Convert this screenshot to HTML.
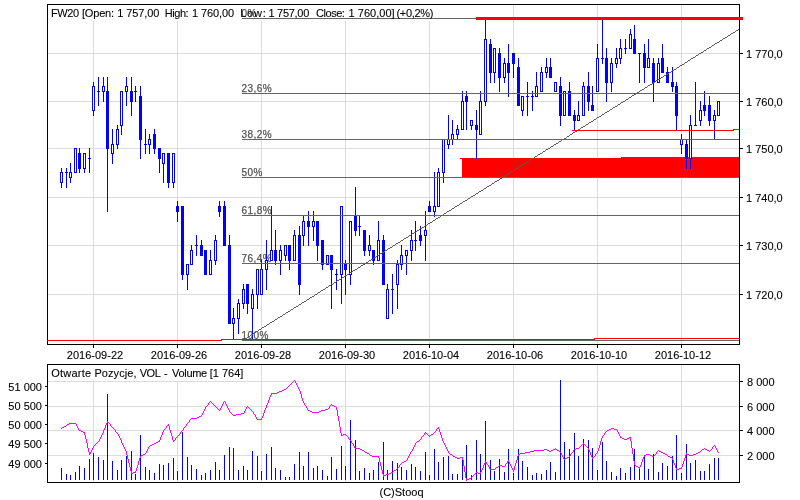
<!DOCTYPE html>
<html><head><meta charset="utf-8"><title>FW20</title>
<style>
html,body{margin:0;padding:0;background:#fff;}
body{width:800px;height:500px;overflow:hidden;}
svg{display:block;}
text{font-family:"Liberation Sans",sans-serif;font-size:11px;white-space:pre;}
g.t text{stroke:#000;stroke-width:0.1px;}
</style></head><body>
<svg width="800" height="500" viewBox="0 0 800 500">
<rect width="800" height="500" fill="#fff"/>
<g shape-rendering="crispEdges">
<rect x="93" y="5" width="1" height="339" fill="#dcdcdc"/>
<rect x="177" y="5" width="1" height="339" fill="#dcdcdc"/>
<rect x="261" y="5" width="1" height="339" fill="#dcdcdc"/>
<rect x="345" y="5" width="1" height="339" fill="#dcdcdc"/>
<rect x="429" y="5" width="1" height="339" fill="#dcdcdc"/>
<rect x="513" y="5" width="1" height="339" fill="#dcdcdc"/>
<rect x="597" y="5" width="1" height="339" fill="#dcdcdc"/>
<rect x="681" y="5" width="1" height="339" fill="#dcdcdc"/>
<rect x="48" y="53" width="691" height="1" fill="#dcdcdc"/>
<rect x="48" y="101" width="691" height="1" fill="#dcdcdc"/>
<rect x="48" y="148" width="691" height="1" fill="#dcdcdc"/>
<rect x="48" y="197" width="691" height="1" fill="#dcdcdc"/>
<rect x="48" y="245" width="691" height="1" fill="#dcdcdc"/>
<rect x="48" y="294" width="691" height="1" fill="#dcdcdc"/>
<rect x="48" y="5" width="388" height="16" fill="#fff"/>
<rect x="93" y="365" width="1" height="117" fill="#dcdcdc"/>
<rect x="177" y="365" width="1" height="117" fill="#dcdcdc"/>
<rect x="261" y="365" width="1" height="117" fill="#dcdcdc"/>
<rect x="345" y="365" width="1" height="117" fill="#dcdcdc"/>
<rect x="429" y="365" width="1" height="117" fill="#dcdcdc"/>
<rect x="513" y="365" width="1" height="117" fill="#dcdcdc"/>
<rect x="597" y="365" width="1" height="117" fill="#dcdcdc"/>
<rect x="681" y="365" width="1" height="117" fill="#dcdcdc"/>
<rect x="48" y="381" width="691" height="1" fill="#dcdcdc"/>
<rect x="48" y="406" width="691" height="1" fill="#dcdcdc"/>
<rect x="48" y="430" width="691" height="1" fill="#dcdcdc"/>
<rect x="48" y="455" width="691" height="1" fill="#dcdcdc"/>
<rect x="48" y="365" width="198" height="16" fill="#fff"/>
<rect x="462" y="158" width="277" height="19" fill="#ff0000"/>
<rect x="460" y="158" width="3" height="1" fill="#ff0000"/>
<rect x="621" y="157" width="118" height="1" fill="#ff0000"/>
<g style="will-change:transform"><text x="241.6" y="17" fill="#555" stroke="#555" stroke-width="0.25" letter-spacing="0.44" style="font-size:10px">0%</text></g>
<g style="will-change:transform"><text x="241.6" y="92" fill="#555" stroke="#555" stroke-width="0.25" letter-spacing="0.44" style="font-size:10px">23,6%</text></g>
<g style="will-change:transform"><text x="241.6" y="138" fill="#555" stroke="#555" stroke-width="0.25" letter-spacing="0.44" style="font-size:10px">38,2%</text></g>
<g style="will-change:transform"><text x="241.6" y="176" fill="#555" stroke="#555" stroke-width="0.25" letter-spacing="0.44" style="font-size:10px">50%</text></g>
<g style="will-change:transform"><text x="241.6" y="214" fill="#555" stroke="#555" stroke-width="0.25" letter-spacing="0.44" style="font-size:10px">61,8%</text></g>
<g style="will-change:transform"><text x="241.6" y="262" fill="#555" stroke="#555" stroke-width="0.25" letter-spacing="0.44" style="font-size:10px">76,4%</text></g>
<g style="will-change:transform"><text x="241.6" y="339" fill="#555" stroke="#555" stroke-width="0.25" letter-spacing="0.44" style="font-size:10px">100%</text></g>
<rect x="61" y="168" width="1" height="20" fill="#0000ff"/>
<rect x="60" y="172" width="3" height="11" fill="#0000ff"/>
<rect x="61" y="173" width="1" height="9" fill="#fff"/>
<rect x="66" y="168" width="1" height="20" fill="#0000ff"/>
<rect x="65" y="172" width="3" height="1" fill="#0000ff"/>
<rect x="70" y="163" width="1" height="20" fill="#0000ff"/>
<rect x="69" y="172" width="3" height="6" fill="#0000ff"/>
<rect x="70" y="173" width="1" height="4" fill="#fff"/>
<rect x="75" y="148" width="1" height="25" fill="#0000ff"/>
<rect x="74" y="148" width="3" height="25" fill="#0000ff"/>
<rect x="75" y="149" width="1" height="23" fill="#fff"/>
<rect x="79" y="148" width="1" height="25" fill="#0000ff"/>
<rect x="78" y="153" width="3" height="16" fill="#0000ff"/>
<rect x="84" y="153" width="1" height="20" fill="#0000ff"/>
<rect x="83" y="153" width="3" height="16" fill="#0000ff"/>
<rect x="84" y="154" width="1" height="14" fill="#fff"/>
<rect x="89" y="148" width="1" height="25" fill="#0000ff"/>
<rect x="88" y="158" width="3" height="1" fill="#0000ff"/>
<rect x="93" y="82" width="1" height="34" fill="#0000ff"/>
<rect x="92" y="86" width="3" height="25" fill="#0000ff"/>
<rect x="93" y="87" width="1" height="23" fill="#fff"/>
<rect x="98" y="77" width="1" height="29" fill="#0000ff"/>
<rect x="97" y="91" width="3" height="1" fill="#0000ff"/>
<rect x="103" y="77" width="1" height="25" fill="#0000ff"/>
<rect x="102" y="86" width="3" height="6" fill="#0000ff"/>
<rect x="103" y="87" width="1" height="4" fill="#fff"/>
<rect x="107" y="77" width="1" height="135" fill="#0000ff"/>
<rect x="106" y="91" width="3" height="58" fill="#0000ff"/>
<rect x="112" y="129" width="1" height="35" fill="#0000ff"/>
<rect x="111" y="144" width="3" height="10" fill="#0000ff"/>
<rect x="112" y="145" width="1" height="8" fill="#fff"/>
<rect x="117" y="125" width="1" height="24" fill="#0000ff"/>
<rect x="116" y="129" width="3" height="16" fill="#0000ff"/>
<rect x="117" y="130" width="1" height="14" fill="#fff"/>
<rect x="121" y="91" width="1" height="44" fill="#0000ff"/>
<rect x="120" y="91" width="3" height="35" fill="#0000ff"/>
<rect x="121" y="92" width="1" height="33" fill="#fff"/>
<rect x="126" y="77" width="1" height="29" fill="#0000ff"/>
<rect x="125" y="86" width="3" height="6" fill="#0000ff"/>
<rect x="126" y="87" width="1" height="4" fill="#fff"/>
<rect x="131" y="77" width="1" height="39" fill="#0000ff"/>
<rect x="130" y="91" width="3" height="11" fill="#0000ff"/>
<rect x="135" y="86" width="1" height="16" fill="#0000ff"/>
<rect x="134" y="91" width="3" height="1" fill="#0000ff"/>
<rect x="140" y="86" width="1" height="73" fill="#0000ff"/>
<rect x="139" y="96" width="3" height="44" fill="#0000ff"/>
<rect x="145" y="129" width="1" height="25" fill="#0000ff"/>
<rect x="144" y="144" width="3" height="1" fill="#0000ff"/>
<rect x="149" y="134" width="1" height="20" fill="#0000ff"/>
<rect x="148" y="139" width="3" height="6" fill="#0000ff"/>
<rect x="149" y="140" width="1" height="4" fill="#fff"/>
<rect x="154" y="129" width="1" height="25" fill="#0000ff"/>
<rect x="153" y="134" width="3" height="15" fill="#0000ff"/>
<rect x="159" y="148" width="1" height="25" fill="#0000ff"/>
<rect x="158" y="148" width="3" height="11" fill="#0000ff"/>
<rect x="163" y="153" width="1" height="30" fill="#0000ff"/>
<rect x="162" y="153" width="3" height="11" fill="#0000ff"/>
<rect x="163" y="154" width="1" height="9" fill="#fff"/>
<rect x="168" y="153" width="1" height="35" fill="#0000ff"/>
<rect x="167" y="153" width="3" height="30" fill="#0000ff"/>
<rect x="173" y="153" width="1" height="35" fill="#0000ff"/>
<rect x="172" y="153" width="3" height="30" fill="#0000ff"/>
<rect x="173" y="154" width="1" height="28" fill="#fff"/>
<rect x="177" y="201" width="1" height="21" fill="#0000ff"/>
<rect x="176" y="206" width="3" height="6" fill="#0000ff"/>
<rect x="182" y="206" width="1" height="74" fill="#0000ff"/>
<rect x="181" y="206" width="3" height="69" fill="#0000ff"/>
<rect x="187" y="264" width="1" height="26" fill="#0000ff"/>
<rect x="186" y="264" width="3" height="11" fill="#0000ff"/>
<rect x="187" y="265" width="1" height="9" fill="#fff"/>
<rect x="191" y="245" width="1" height="20" fill="#0000ff"/>
<rect x="190" y="250" width="3" height="15" fill="#0000ff"/>
<rect x="191" y="251" width="1" height="13" fill="#fff"/>
<rect x="196" y="235" width="1" height="21" fill="#0000ff"/>
<rect x="195" y="245" width="3" height="1" fill="#0000ff"/>
<rect x="201" y="240" width="1" height="16" fill="#0000ff"/>
<rect x="200" y="245" width="3" height="11" fill="#0000ff"/>
<rect x="205" y="250" width="1" height="25" fill="#0000ff"/>
<rect x="204" y="250" width="3" height="25" fill="#0000ff"/>
<rect x="210" y="250" width="1" height="25" fill="#0000ff"/>
<rect x="209" y="260" width="3" height="15" fill="#0000ff"/>
<rect x="210" y="261" width="1" height="13" fill="#fff"/>
<rect x="215" y="235" width="1" height="30" fill="#0000ff"/>
<rect x="214" y="240" width="3" height="21" fill="#0000ff"/>
<rect x="215" y="241" width="1" height="19" fill="#fff"/>
<rect x="219" y="201" width="1" height="16" fill="#0000ff"/>
<rect x="218" y="206" width="3" height="6" fill="#0000ff"/>
<rect x="224" y="201" width="1" height="45" fill="#0000ff"/>
<rect x="223" y="206" width="3" height="40" fill="#0000ff"/>
<rect x="229" y="235" width="1" height="89" fill="#0000ff"/>
<rect x="228" y="245" width="3" height="79" fill="#0000ff"/>
<rect x="233" y="308" width="1" height="32" fill="#0000ff"/>
<rect x="232" y="318" width="3" height="6" fill="#0000ff"/>
<rect x="233" y="319" width="1" height="4" fill="#fff"/>
<rect x="238" y="299" width="1" height="35" fill="#0000ff"/>
<rect x="237" y="303" width="3" height="16" fill="#0000ff"/>
<rect x="238" y="304" width="1" height="14" fill="#fff"/>
<rect x="243" y="284" width="1" height="25" fill="#0000ff"/>
<rect x="242" y="289" width="3" height="15" fill="#0000ff"/>
<rect x="243" y="290" width="1" height="13" fill="#fff"/>
<rect x="247" y="284" width="1" height="30" fill="#0000ff"/>
<rect x="246" y="284" width="3" height="20" fill="#0000ff"/>
<rect x="252" y="289" width="1" height="51" fill="#0000ff"/>
<rect x="251" y="294" width="3" height="15" fill="#0000ff"/>
<rect x="252" y="295" width="1" height="13" fill="#fff"/>
<rect x="257" y="269" width="1" height="40" fill="#0000ff"/>
<rect x="256" y="269" width="3" height="26" fill="#0000ff"/>
<rect x="257" y="270" width="1" height="24" fill="#fff"/>
<rect x="261" y="260" width="1" height="35" fill="#0000ff"/>
<rect x="260" y="269" width="3" height="26" fill="#0000ff"/>
<rect x="261" y="270" width="1" height="24" fill="#fff"/>
<rect x="266" y="240" width="1" height="50" fill="#0000ff"/>
<rect x="265" y="260" width="3" height="10" fill="#0000ff"/>
<rect x="266" y="261" width="1" height="8" fill="#fff"/>
<rect x="271" y="206" width="1" height="55" fill="#0000ff"/>
<rect x="270" y="250" width="3" height="11" fill="#0000ff"/>
<rect x="271" y="251" width="1" height="9" fill="#fff"/>
<rect x="275" y="230" width="1" height="35" fill="#0000ff"/>
<rect x="274" y="250" width="3" height="11" fill="#0000ff"/>
<rect x="280" y="245" width="1" height="30" fill="#0000ff"/>
<rect x="279" y="250" width="3" height="11" fill="#0000ff"/>
<rect x="280" y="251" width="1" height="9" fill="#fff"/>
<rect x="285" y="245" width="1" height="16" fill="#0000ff"/>
<rect x="284" y="245" width="3" height="11" fill="#0000ff"/>
<rect x="285" y="246" width="1" height="9" fill="#fff"/>
<rect x="289" y="245" width="1" height="25" fill="#0000ff"/>
<rect x="288" y="245" width="3" height="16" fill="#0000ff"/>
<rect x="294" y="230" width="1" height="31" fill="#0000ff"/>
<rect x="293" y="235" width="3" height="26" fill="#0000ff"/>
<rect x="294" y="236" width="1" height="24" fill="#fff"/>
<rect x="299" y="226" width="1" height="69" fill="#0000ff"/>
<rect x="298" y="235" width="3" height="50" fill="#0000ff"/>
<rect x="303" y="216" width="1" height="30" fill="#0000ff"/>
<rect x="302" y="221" width="3" height="15" fill="#0000ff"/>
<rect x="303" y="222" width="1" height="13" fill="#fff"/>
<rect x="308" y="211" width="1" height="35" fill="#0000ff"/>
<rect x="307" y="221" width="3" height="6" fill="#0000ff"/>
<rect x="313" y="211" width="1" height="30" fill="#0000ff"/>
<rect x="312" y="221" width="3" height="6" fill="#0000ff"/>
<rect x="313" y="222" width="1" height="4" fill="#fff"/>
<rect x="317" y="221" width="1" height="40" fill="#0000ff"/>
<rect x="316" y="221" width="3" height="25" fill="#0000ff"/>
<rect x="322" y="240" width="1" height="30" fill="#0000ff"/>
<rect x="321" y="240" width="3" height="25" fill="#0000ff"/>
<rect x="327" y="255" width="1" height="10" fill="#0000ff"/>
<rect x="326" y="255" width="3" height="10" fill="#0000ff"/>
<rect x="327" y="256" width="1" height="8" fill="#fff"/>
<rect x="331" y="255" width="1" height="54" fill="#0000ff"/>
<rect x="330" y="255" width="3" height="15" fill="#0000ff"/>
<rect x="336" y="269" width="1" height="21" fill="#0000ff"/>
<rect x="335" y="274" width="3" height="1" fill="#0000ff"/>
<rect x="341" y="206" width="1" height="98" fill="#0000ff"/>
<rect x="340" y="206" width="3" height="69" fill="#0000ff"/>
<rect x="341" y="207" width="1" height="67" fill="#fff"/>
<rect x="345" y="260" width="1" height="35" fill="#0000ff"/>
<rect x="344" y="264" width="3" height="6" fill="#0000ff"/>
<rect x="350" y="221" width="1" height="64" fill="#0000ff"/>
<rect x="349" y="221" width="3" height="54" fill="#0000ff"/>
<rect x="350" y="222" width="1" height="52" fill="#fff"/>
<rect x="355" y="187" width="1" height="49" fill="#0000ff"/>
<rect x="354" y="216" width="3" height="15" fill="#0000ff"/>
<rect x="359" y="216" width="1" height="20" fill="#0000ff"/>
<rect x="358" y="226" width="3" height="1" fill="#0000ff"/>
<rect x="364" y="230" width="1" height="26" fill="#0000ff"/>
<rect x="363" y="230" width="3" height="21" fill="#0000ff"/>
<rect x="369" y="235" width="1" height="21" fill="#0000ff"/>
<rect x="368" y="245" width="3" height="6" fill="#0000ff"/>
<rect x="369" y="246" width="1" height="4" fill="#fff"/>
<rect x="373" y="250" width="1" height="15" fill="#0000ff"/>
<rect x="372" y="250" width="3" height="11" fill="#0000ff"/>
<rect x="378" y="221" width="1" height="40" fill="#0000ff"/>
<rect x="377" y="240" width="3" height="21" fill="#0000ff"/>
<rect x="378" y="241" width="1" height="19" fill="#fff"/>
<rect x="383" y="235" width="1" height="50" fill="#0000ff"/>
<rect x="382" y="240" width="3" height="45" fill="#0000ff"/>
<rect x="387" y="284" width="1" height="35" fill="#0000ff"/>
<rect x="386" y="289" width="3" height="30" fill="#0000ff"/>
<rect x="387" y="290" width="1" height="28" fill="#fff"/>
<rect x="392" y="274" width="1" height="40" fill="#0000ff"/>
<rect x="391" y="289" width="3" height="1" fill="#0000ff"/>
<rect x="397" y="260" width="1" height="49" fill="#0000ff"/>
<rect x="396" y="264" width="3" height="21" fill="#0000ff"/>
<rect x="397" y="265" width="1" height="19" fill="#fff"/>
<rect x="401" y="245" width="1" height="25" fill="#0000ff"/>
<rect x="400" y="255" width="3" height="10" fill="#0000ff"/>
<rect x="401" y="256" width="1" height="8" fill="#fff"/>
<rect x="406" y="250" width="1" height="25" fill="#0000ff"/>
<rect x="405" y="250" width="3" height="6" fill="#0000ff"/>
<rect x="406" y="251" width="1" height="4" fill="#fff"/>
<rect x="411" y="230" width="1" height="31" fill="#0000ff"/>
<rect x="410" y="240" width="3" height="11" fill="#0000ff"/>
<rect x="411" y="241" width="1" height="9" fill="#fff"/>
<rect x="415" y="221" width="1" height="30" fill="#0000ff"/>
<rect x="414" y="240" width="3" height="1" fill="#0000ff"/>
<rect x="420" y="226" width="1" height="20" fill="#0000ff"/>
<rect x="419" y="235" width="3" height="6" fill="#0000ff"/>
<rect x="425" y="211" width="1" height="50" fill="#0000ff"/>
<rect x="424" y="230" width="3" height="6" fill="#0000ff"/>
<rect x="425" y="231" width="1" height="4" fill="#fff"/>
<rect x="429" y="201" width="1" height="11" fill="#0000ff"/>
<rect x="428" y="206" width="3" height="6" fill="#0000ff"/>
<rect x="434" y="172" width="1" height="45" fill="#0000ff"/>
<rect x="433" y="206" width="3" height="6" fill="#0000ff"/>
<rect x="434" y="207" width="1" height="4" fill="#fff"/>
<rect x="438" y="168" width="1" height="39" fill="#0000ff"/>
<rect x="437" y="172" width="3" height="35" fill="#0000ff"/>
<rect x="438" y="173" width="1" height="33" fill="#fff"/>
<rect x="443" y="139" width="1" height="44" fill="#0000ff"/>
<rect x="442" y="139" width="3" height="34" fill="#0000ff"/>
<rect x="443" y="140" width="1" height="32" fill="#fff"/>
<rect x="448" y="115" width="1" height="34" fill="#0000ff"/>
<rect x="447" y="139" width="3" height="6" fill="#0000ff"/>
<rect x="448" y="140" width="1" height="4" fill="#fff"/>
<rect x="452" y="120" width="1" height="25" fill="#0000ff"/>
<rect x="451" y="134" width="3" height="6" fill="#0000ff"/>
<rect x="452" y="135" width="1" height="4" fill="#fff"/>
<rect x="457" y="125" width="1" height="15" fill="#0000ff"/>
<rect x="456" y="129" width="3" height="6" fill="#0000ff"/>
<rect x="457" y="130" width="1" height="4" fill="#fff"/>
<rect x="462" y="91" width="1" height="39" fill="#0000ff"/>
<rect x="461" y="101" width="3" height="29" fill="#0000ff"/>
<rect x="462" y="102" width="1" height="27" fill="#fff"/>
<rect x="466" y="91" width="1" height="39" fill="#0000ff"/>
<rect x="465" y="96" width="3" height="6" fill="#0000ff"/>
<rect x="471" y="120" width="1" height="10" fill="#0000ff"/>
<rect x="470" y="120" width="3" height="6" fill="#0000ff"/>
<rect x="471" y="121" width="1" height="4" fill="#fff"/>
<rect x="476" y="110" width="1" height="49" fill="#0000ff"/>
<rect x="475" y="125" width="3" height="5" fill="#0000ff"/>
<rect x="480" y="91" width="1" height="44" fill="#0000ff"/>
<rect x="479" y="101" width="3" height="34" fill="#0000ff"/>
<rect x="480" y="102" width="1" height="32" fill="#fff"/>
<rect x="485" y="20" width="1" height="86" fill="#0000ff"/>
<rect x="484" y="39" width="3" height="63" fill="#0000ff"/>
<rect x="485" y="40" width="1" height="61" fill="#fff"/>
<rect x="490" y="39" width="1" height="44" fill="#0000ff"/>
<rect x="489" y="44" width="3" height="29" fill="#0000ff"/>
<rect x="494" y="48" width="1" height="35" fill="#0000ff"/>
<rect x="493" y="48" width="3" height="25" fill="#0000ff"/>
<rect x="494" y="49" width="1" height="23" fill="#fff"/>
<rect x="499" y="48" width="1" height="44" fill="#0000ff"/>
<rect x="498" y="53" width="3" height="25" fill="#0000ff"/>
<rect x="504" y="58" width="1" height="25" fill="#0000ff"/>
<rect x="503" y="63" width="3" height="15" fill="#0000ff"/>
<rect x="504" y="64" width="1" height="13" fill="#fff"/>
<rect x="508" y="44" width="1" height="53" fill="#0000ff"/>
<rect x="507" y="63" width="3" height="10" fill="#0000ff"/>
<rect x="513" y="53" width="1" height="25" fill="#0000ff"/>
<rect x="512" y="53" width="3" height="11" fill="#0000ff"/>
<rect x="518" y="58" width="1" height="48" fill="#0000ff"/>
<rect x="517" y="67" width="3" height="39" fill="#0000ff"/>
<rect x="522" y="96" width="1" height="20" fill="#0000ff"/>
<rect x="521" y="96" width="3" height="15" fill="#0000ff"/>
<rect x="522" y="97" width="1" height="13" fill="#fff"/>
<rect x="527" y="82" width="1" height="34" fill="#0000ff"/>
<rect x="526" y="96" width="3" height="1" fill="#0000ff"/>
<rect x="532" y="91" width="1" height="20" fill="#0000ff"/>
<rect x="531" y="96" width="3" height="1" fill="#0000ff"/>
<rect x="536" y="72" width="1" height="25" fill="#0000ff"/>
<rect x="535" y="86" width="3" height="11" fill="#0000ff"/>
<rect x="536" y="87" width="1" height="9" fill="#fff"/>
<rect x="541" y="67" width="1" height="25" fill="#0000ff"/>
<rect x="540" y="72" width="3" height="20" fill="#0000ff"/>
<rect x="541" y="73" width="1" height="18" fill="#fff"/>
<rect x="546" y="58" width="1" height="20" fill="#0000ff"/>
<rect x="545" y="67" width="3" height="6" fill="#0000ff"/>
<rect x="546" y="68" width="1" height="4" fill="#fff"/>
<rect x="550" y="58" width="1" height="20" fill="#0000ff"/>
<rect x="549" y="67" width="3" height="11" fill="#0000ff"/>
<rect x="555" y="82" width="1" height="10" fill="#0000ff"/>
<rect x="554" y="82" width="3" height="10" fill="#0000ff"/>
<rect x="555" y="83" width="1" height="8" fill="#fff"/>
<rect x="560" y="77" width="1" height="49" fill="#0000ff"/>
<rect x="559" y="86" width="3" height="30" fill="#0000ff"/>
<rect x="564" y="91" width="1" height="25" fill="#0000ff"/>
<rect x="563" y="91" width="3" height="25" fill="#0000ff"/>
<rect x="564" y="92" width="1" height="23" fill="#fff"/>
<rect x="569" y="82" width="1" height="34" fill="#0000ff"/>
<rect x="568" y="91" width="3" height="25" fill="#0000ff"/>
<rect x="574" y="110" width="1" height="20" fill="#0000ff"/>
<rect x="573" y="115" width="3" height="6" fill="#0000ff"/>
<rect x="578" y="101" width="1" height="20" fill="#0000ff"/>
<rect x="577" y="115" width="3" height="6" fill="#0000ff"/>
<rect x="578" y="116" width="1" height="4" fill="#fff"/>
<rect x="583" y="82" width="1" height="34" fill="#0000ff"/>
<rect x="582" y="86" width="3" height="30" fill="#0000ff"/>
<rect x="583" y="87" width="1" height="28" fill="#fff"/>
<rect x="588" y="72" width="1" height="39" fill="#0000ff"/>
<rect x="587" y="86" width="3" height="16" fill="#0000ff"/>
<rect x="592" y="86" width="1" height="25" fill="#0000ff"/>
<rect x="591" y="105" width="3" height="6" fill="#0000ff"/>
<rect x="597" y="44" width="1" height="48" fill="#0000ff"/>
<rect x="596" y="58" width="3" height="34" fill="#0000ff"/>
<rect x="597" y="59" width="1" height="32" fill="#fff"/>
<rect x="602" y="20" width="1" height="44" fill="#0000ff"/>
<rect x="601" y="58" width="3" height="1" fill="#0000ff"/>
<rect x="606" y="48" width="1" height="54" fill="#0000ff"/>
<rect x="605" y="58" width="3" height="25" fill="#0000ff"/>
<rect x="611" y="58" width="1" height="34" fill="#0000ff"/>
<rect x="610" y="63" width="3" height="20" fill="#0000ff"/>
<rect x="611" y="64" width="1" height="18" fill="#fff"/>
<rect x="616" y="48" width="1" height="20" fill="#0000ff"/>
<rect x="615" y="58" width="3" height="6" fill="#0000ff"/>
<rect x="616" y="59" width="1" height="4" fill="#fff"/>
<rect x="620" y="39" width="1" height="25" fill="#0000ff"/>
<rect x="619" y="48" width="3" height="11" fill="#0000ff"/>
<rect x="620" y="49" width="1" height="9" fill="#fff"/>
<rect x="625" y="39" width="1" height="15" fill="#0000ff"/>
<rect x="624" y="48" width="3" height="1" fill="#0000ff"/>
<rect x="630" y="29" width="1" height="20" fill="#0000ff"/>
<rect x="629" y="34" width="3" height="15" fill="#0000ff"/>
<rect x="630" y="35" width="1" height="13" fill="#fff"/>
<rect x="634" y="25" width="1" height="29" fill="#0000ff"/>
<rect x="633" y="39" width="3" height="15" fill="#0000ff"/>
<rect x="639" y="53" width="1" height="30" fill="#0000ff"/>
<rect x="638" y="53" width="3" height="1" fill="#0000ff"/>
<rect x="644" y="44" width="1" height="39" fill="#0000ff"/>
<rect x="643" y="53" width="3" height="15" fill="#0000ff"/>
<rect x="648" y="39" width="1" height="29" fill="#0000ff"/>
<rect x="647" y="58" width="3" height="10" fill="#0000ff"/>
<rect x="648" y="59" width="1" height="8" fill="#fff"/>
<rect x="653" y="58" width="1" height="44" fill="#0000ff"/>
<rect x="652" y="63" width="3" height="20" fill="#0000ff"/>
<rect x="658" y="58" width="1" height="25" fill="#0000ff"/>
<rect x="657" y="63" width="3" height="20" fill="#0000ff"/>
<rect x="658" y="64" width="1" height="18" fill="#fff"/>
<rect x="662" y="44" width="1" height="29" fill="#0000ff"/>
<rect x="661" y="58" width="3" height="15" fill="#0000ff"/>
<rect x="667" y="67" width="1" height="16" fill="#0000ff"/>
<rect x="666" y="72" width="3" height="11" fill="#0000ff"/>
<rect x="672" y="67" width="1" height="25" fill="#0000ff"/>
<rect x="671" y="82" width="3" height="5" fill="#0000ff"/>
<rect x="676" y="82" width="1" height="48" fill="#0000ff"/>
<rect x="675" y="86" width="3" height="30" fill="#0000ff"/>
<rect x="681" y="134" width="1" height="20" fill="#0000ff"/>
<rect x="680" y="139" width="3" height="6" fill="#0000ff"/>
<rect x="681" y="140" width="1" height="4" fill="#fff"/>
<rect x="686" y="139" width="1" height="30" fill="#0000ff"/>
<rect x="685" y="144" width="3" height="15" fill="#0000ff"/>
<rect x="690" y="115" width="1" height="54" fill="#0000ff"/>
<rect x="689" y="125" width="3" height="34" fill="#0000ff"/>
<rect x="690" y="126" width="1" height="32" fill="#fff"/>
<rect x="695" y="82" width="1" height="44" fill="#0000ff"/>
<rect x="694" y="125" width="3" height="1" fill="#0000ff"/>
<rect x="700" y="101" width="1" height="25" fill="#0000ff"/>
<rect x="699" y="110" width="3" height="11" fill="#0000ff"/>
<rect x="700" y="111" width="1" height="9" fill="#fff"/>
<rect x="704" y="91" width="1" height="25" fill="#0000ff"/>
<rect x="703" y="105" width="3" height="6" fill="#0000ff"/>
<rect x="709" y="96" width="1" height="30" fill="#0000ff"/>
<rect x="708" y="105" width="3" height="16" fill="#0000ff"/>
<rect x="714" y="110" width="1" height="30" fill="#0000ff"/>
<rect x="713" y="115" width="3" height="6" fill="#0000ff"/>
<rect x="714" y="116" width="1" height="4" fill="#fff"/>
<rect x="718" y="101" width="1" height="15" fill="#0000ff"/>
<rect x="717" y="101" width="3" height="15" fill="#0000ff"/>
<rect x="718" y="102" width="1" height="13" fill="#fff"/>
<rect x="242" y="18" width="497" height="1" fill="#646464"/>
<rect x="242" y="93" width="497" height="1" fill="#646464"/>
<rect x="242" y="139" width="497" height="1" fill="#646464"/>
<rect x="242" y="177" width="497" height="1" fill="#646464"/>
<rect x="242" y="215" width="497" height="1" fill="#646464"/>
<rect x="242" y="263" width="497" height="1" fill="#646464"/>
<rect x="242" y="340" width="497" height="1" fill="#646464"/>
<rect x="572" y="130" width="162" height="1" fill="#ff0000"/>
<rect x="733" y="129" width="7" height="1" fill="#ff0000"/>
<path d="M243 339h2v1h-2zM245 338h2v1h-2zM247 337h1v1h-1zM248 336h2v1h-2zM250 335h1v1h-1zM251 334h2v1h-2zM253 333h2v1h-2zM255 332h1v1h-1zM256 331h2v1h-2zM258 330h1v1h-1zM259 329h2v1h-2zM261 328h1v1h-1zM262 327h2v1h-2zM264 326h2v1h-2zM266 325h1v1h-1zM267 324h2v1h-2zM269 323h1v1h-1zM270 322h2v1h-2zM272 321h2v1h-2zM274 320h1v1h-1zM275 319h2v1h-2zM277 318h1v1h-1zM278 317h2v1h-2zM280 316h2v1h-2zM282 315h1v1h-1zM283 314h2v1h-2zM285 313h1v1h-1zM286 312h2v1h-2zM288 311h2v1h-2zM290 310h1v1h-1zM291 309h2v1h-2zM293 308h1v1h-1zM294 307h2v1h-2zM296 306h2v1h-2zM298 305h1v1h-1zM299 304h2v1h-2zM301 303h1v1h-1zM302 302h2v1h-2zM304 301h2v1h-2zM306 300h1v1h-1zM307 299h2v1h-2zM309 298h1v1h-1zM310 297h2v1h-2zM312 296h2v1h-2zM314 295h1v1h-1zM315 294h2v1h-2zM317 293h1v1h-1zM318 292h2v1h-2zM320 291h1v1h-1zM321 290h2v1h-2zM323 289h2v1h-2zM325 288h1v1h-1zM326 287h2v1h-2zM328 286h1v1h-1zM329 285h2v1h-2zM331 284h2v1h-2zM333 283h1v1h-1zM334 282h2v1h-2zM336 281h1v1h-1zM337 280h2v1h-2zM339 279h2v1h-2zM341 278h1v1h-1zM342 277h2v1h-2zM344 276h1v1h-1zM345 275h2v1h-2zM347 274h2v1h-2zM349 273h1v1h-1zM350 272h2v1h-2zM352 271h1v1h-1zM353 270h2v1h-2zM355 269h2v1h-2zM357 268h1v1h-1zM358 267h2v1h-2zM360 266h1v1h-1zM361 265h2v1h-2zM363 264h2v1h-2zM365 263h1v1h-1zM366 262h2v1h-2zM368 261h1v1h-1zM369 260h2v1h-2zM371 259h2v1h-2zM373 258h1v1h-1zM374 257h2v1h-2zM376 256h1v1h-1zM377 255h2v1h-2zM379 254h1v1h-1zM380 253h2v1h-2zM382 252h2v1h-2zM384 251h1v1h-1zM385 250h2v1h-2zM387 249h1v1h-1zM388 248h2v1h-2zM390 247h2v1h-2zM392 246h1v1h-1zM393 245h2v1h-2zM395 244h1v1h-1zM396 243h2v1h-2zM398 242h2v1h-2zM400 241h1v1h-1zM401 240h2v1h-2zM403 239h1v1h-1zM404 238h2v1h-2zM406 237h2v1h-2zM408 236h1v1h-1zM409 235h2v1h-2zM411 234h1v1h-1zM412 233h2v1h-2zM414 232h2v1h-2zM416 231h1v1h-1zM417 230h2v1h-2zM419 229h1v1h-1zM420 228h2v1h-2zM422 227h2v1h-2zM424 226h1v1h-1zM425 225h2v1h-2zM427 224h1v1h-1zM428 223h2v1h-2zM430 222h2v1h-2zM432 221h1v1h-1zM433 220h2v1h-2zM435 219h1v1h-1zM436 218h2v1h-2zM438 217h2v1h-2zM440 216h1v1h-1zM441 215h2v1h-2zM443 214h1v1h-1zM444 213h2v1h-2zM446 212h1v1h-1zM447 211h2v1h-2zM449 210h2v1h-2zM451 209h1v1h-1zM452 208h2v1h-2zM454 207h1v1h-1zM455 206h2v1h-2zM457 205h2v1h-2zM459 204h1v1h-1zM460 203h2v1h-2zM462 202h1v1h-1zM463 201h2v1h-2zM465 200h2v1h-2zM467 199h1v1h-1zM468 198h2v1h-2zM470 197h1v1h-1zM471 196h2v1h-2zM473 195h2v1h-2zM475 194h1v1h-1zM476 193h2v1h-2zM478 192h1v1h-1zM479 191h2v1h-2zM481 190h2v1h-2zM483 189h1v1h-1zM484 188h2v1h-2zM486 187h1v1h-1zM487 186h2v1h-2zM489 185h2v1h-2zM491 184h1v1h-1zM492 183h2v1h-2zM494 182h1v1h-1zM495 181h2v1h-2zM497 180h2v1h-2zM499 179h1v1h-1zM500 178h2v1h-2zM502 177h1v1h-1zM503 176h2v1h-2zM505 175h1v1h-1zM506 174h2v1h-2zM508 173h2v1h-2zM510 172h1v1h-1zM511 171h2v1h-2zM513 170h1v1h-1zM514 169h2v1h-2zM516 168h2v1h-2zM518 167h1v1h-1zM519 166h2v1h-2zM521 165h1v1h-1zM522 164h2v1h-2zM524 163h2v1h-2zM526 162h1v1h-1zM527 161h2v1h-2zM529 160h1v1h-1zM530 159h2v1h-2zM532 158h2v1h-2zM534 157h1v1h-1zM535 156h2v1h-2zM537 155h1v1h-1zM538 154h2v1h-2zM540 153h2v1h-2zM542 152h1v1h-1zM543 151h2v1h-2zM545 150h1v1h-1zM546 149h2v1h-2zM548 148h2v1h-2zM550 147h1v1h-1zM551 146h2v1h-2zM553 145h1v1h-1zM554 144h2v1h-2zM556 143h2v1h-2zM558 142h1v1h-1zM559 141h2v1h-2zM561 140h1v1h-1zM562 139h2v1h-2zM564 138h2v1h-2zM566 137h1v1h-1zM567 136h2v1h-2zM569 135h1v1h-1zM570 134h2v1h-2zM572 133h1v1h-1zM573 132h2v1h-2zM575 131h2v1h-2zM577 130h1v1h-1zM578 129h2v1h-2zM580 128h1v1h-1zM581 127h2v1h-2zM583 126h2v1h-2zM585 125h1v1h-1zM586 124h2v1h-2zM588 123h1v1h-1zM589 122h2v1h-2zM591 121h2v1h-2zM593 120h1v1h-1zM594 119h2v1h-2zM596 118h1v1h-1zM597 117h2v1h-2zM599 116h2v1h-2zM601 115h1v1h-1zM602 114h2v1h-2zM604 113h1v1h-1zM605 112h2v1h-2zM607 111h2v1h-2zM609 110h1v1h-1zM610 109h2v1h-2zM612 108h1v1h-1zM613 107h2v1h-2zM615 106h2v1h-2zM617 105h1v1h-1zM618 104h2v1h-2zM620 103h1v1h-1zM621 102h2v1h-2zM623 101h2v1h-2zM625 100h1v1h-1zM626 99h2v1h-2zM628 98h1v1h-1zM629 97h2v1h-2zM631 96h1v1h-1zM632 95h2v1h-2zM634 94h2v1h-2zM636 93h1v1h-1zM637 92h2v1h-2zM639 91h1v1h-1zM640 90h2v1h-2zM642 89h2v1h-2zM644 88h1v1h-1zM645 87h2v1h-2zM647 86h1v1h-1zM648 85h2v1h-2zM650 84h2v1h-2zM652 83h1v1h-1zM653 82h2v1h-2zM655 81h1v1h-1zM656 80h2v1h-2zM658 79h2v1h-2zM660 78h1v1h-1zM661 77h2v1h-2zM663 76h1v1h-1zM664 75h2v1h-2zM666 74h2v1h-2zM668 73h1v1h-1zM669 72h2v1h-2zM671 71h1v1h-1zM672 70h2v1h-2zM674 69h2v1h-2zM676 68h1v1h-1zM677 67h2v1h-2zM679 66h1v1h-1zM680 65h2v1h-2zM682 64h2v1h-2zM684 63h1v1h-1zM685 62h2v1h-2zM687 61h1v1h-1zM688 60h2v1h-2zM690 59h1v1h-1zM691 58h2v1h-2zM693 57h2v1h-2zM695 56h1v1h-1zM696 55h2v1h-2zM698 54h1v1h-1zM699 53h2v1h-2zM701 52h2v1h-2zM703 51h1v1h-1zM704 50h2v1h-2zM706 49h1v1h-1zM707 48h2v1h-2zM709 47h2v1h-2zM711 46h1v1h-1zM712 45h2v1h-2zM714 44h1v1h-1zM715 43h2v1h-2zM717 42h2v1h-2zM719 41h1v1h-1zM720 40h2v1h-2zM722 39h1v1h-1zM723 38h2v1h-2zM725 37h2v1h-2zM727 36h1v1h-1zM728 35h2v1h-2zM730 34h1v1h-1zM731 33h2v1h-2zM733 32h2v1h-2zM735 31h1v1h-1zM736 30h2v1h-2zM738 29h1v1h-1z" fill="#5a5a5a"/>
<rect x="61" y="468" width="1" height="12" fill="#0000ff"/>
<rect x="66" y="474" width="1" height="6" fill="#0000ff"/>
<rect x="70" y="475" width="1" height="5" fill="#0000ff"/>
<rect x="75" y="472" width="1" height="8" fill="#0000ff"/>
<rect x="79" y="466" width="1" height="14" fill="#0000ff"/>
<rect x="84" y="468" width="1" height="12" fill="#0000ff"/>
<rect x="89" y="459" width="1" height="21" fill="#0000ff"/>
<rect x="93" y="453" width="1" height="27" fill="#0000ff"/>
<rect x="98" y="457" width="1" height="23" fill="#0000ff"/>
<rect x="103" y="460" width="1" height="20" fill="#0000ff"/>
<rect x="107" y="394" width="1" height="86" fill="#0000ff"/>
<rect x="112" y="461" width="1" height="19" fill="#0000ff"/>
<rect x="117" y="470" width="1" height="10" fill="#0000ff"/>
<rect x="121" y="460" width="1" height="20" fill="#0000ff"/>
<rect x="126" y="456" width="1" height="24" fill="#0000ff"/>
<rect x="131" y="451" width="1" height="29" fill="#0000ff"/>
<rect x="135" y="474" width="1" height="6" fill="#0000ff"/>
<rect x="140" y="435" width="1" height="45" fill="#0000ff"/>
<rect x="145" y="467" width="1" height="13" fill="#0000ff"/>
<rect x="149" y="470" width="1" height="10" fill="#0000ff"/>
<rect x="154" y="473" width="1" height="7" fill="#0000ff"/>
<rect x="159" y="464" width="1" height="16" fill="#0000ff"/>
<rect x="163" y="465" width="1" height="15" fill="#0000ff"/>
<rect x="168" y="463" width="1" height="17" fill="#0000ff"/>
<rect x="173" y="458" width="1" height="22" fill="#0000ff"/>
<rect x="177" y="471" width="1" height="9" fill="#0000ff"/>
<rect x="182" y="432" width="1" height="48" fill="#0000ff"/>
<rect x="187" y="457" width="1" height="23" fill="#0000ff"/>
<rect x="191" y="465" width="1" height="15" fill="#0000ff"/>
<rect x="196" y="469" width="1" height="11" fill="#0000ff"/>
<rect x="201" y="475" width="1" height="5" fill="#0000ff"/>
<rect x="205" y="473" width="1" height="7" fill="#0000ff"/>
<rect x="210" y="470" width="1" height="10" fill="#0000ff"/>
<rect x="215" y="462" width="1" height="18" fill="#0000ff"/>
<rect x="219" y="470" width="1" height="10" fill="#0000ff"/>
<rect x="224" y="455" width="1" height="25" fill="#0000ff"/>
<rect x="229" y="447" width="1" height="33" fill="#0000ff"/>
<rect x="233" y="448" width="1" height="32" fill="#0000ff"/>
<rect x="238" y="470" width="1" height="10" fill="#0000ff"/>
<rect x="243" y="466" width="1" height="14" fill="#0000ff"/>
<rect x="247" y="470" width="1" height="10" fill="#0000ff"/>
<rect x="252" y="451" width="1" height="29" fill="#0000ff"/>
<rect x="257" y="456" width="1" height="24" fill="#0000ff"/>
<rect x="261" y="471" width="1" height="9" fill="#0000ff"/>
<rect x="266" y="454" width="1" height="26" fill="#0000ff"/>
<rect x="271" y="447" width="1" height="33" fill="#0000ff"/>
<rect x="275" y="468" width="1" height="12" fill="#0000ff"/>
<rect x="280" y="470" width="1" height="10" fill="#0000ff"/>
<rect x="285" y="477" width="1" height="3" fill="#0000ff"/>
<rect x="289" y="477" width="1" height="3" fill="#0000ff"/>
<rect x="294" y="464" width="1" height="16" fill="#0000ff"/>
<rect x="299" y="452" width="1" height="28" fill="#0000ff"/>
<rect x="303" y="466" width="1" height="14" fill="#0000ff"/>
<rect x="308" y="452" width="1" height="28" fill="#0000ff"/>
<rect x="313" y="468" width="1" height="12" fill="#0000ff"/>
<rect x="317" y="466" width="1" height="14" fill="#0000ff"/>
<rect x="322" y="470" width="1" height="10" fill="#0000ff"/>
<rect x="327" y="476" width="1" height="4" fill="#0000ff"/>
<rect x="331" y="457" width="1" height="23" fill="#0000ff"/>
<rect x="336" y="469" width="1" height="11" fill="#0000ff"/>
<rect x="341" y="446" width="1" height="34" fill="#0000ff"/>
<rect x="345" y="466" width="1" height="14" fill="#0000ff"/>
<rect x="350" y="420" width="1" height="60" fill="#0000ff"/>
<rect x="355" y="440" width="1" height="40" fill="#0000ff"/>
<rect x="359" y="471" width="1" height="9" fill="#0000ff"/>
<rect x="364" y="468" width="1" height="12" fill="#0000ff"/>
<rect x="369" y="473" width="1" height="7" fill="#0000ff"/>
<rect x="373" y="470" width="1" height="10" fill="#0000ff"/>
<rect x="378" y="462" width="1" height="18" fill="#0000ff"/>
<rect x="383" y="442" width="1" height="38" fill="#0000ff"/>
<rect x="387" y="470" width="1" height="10" fill="#0000ff"/>
<rect x="392" y="461" width="1" height="19" fill="#0000ff"/>
<rect x="397" y="463" width="1" height="17" fill="#0000ff"/>
<rect x="401" y="467" width="1" height="13" fill="#0000ff"/>
<rect x="406" y="470" width="1" height="10" fill="#0000ff"/>
<rect x="411" y="464" width="1" height="16" fill="#0000ff"/>
<rect x="415" y="467" width="1" height="13" fill="#0000ff"/>
<rect x="420" y="471" width="1" height="9" fill="#0000ff"/>
<rect x="425" y="452" width="1" height="28" fill="#0000ff"/>
<rect x="429" y="475" width="1" height="5" fill="#0000ff"/>
<rect x="434" y="449" width="1" height="31" fill="#0000ff"/>
<rect x="438" y="462" width="1" height="18" fill="#0000ff"/>
<rect x="443" y="457" width="1" height="23" fill="#0000ff"/>
<rect x="448" y="456" width="1" height="24" fill="#0000ff"/>
<rect x="452" y="474" width="1" height="6" fill="#0000ff"/>
<rect x="457" y="474" width="1" height="6" fill="#0000ff"/>
<rect x="462" y="460" width="1" height="20" fill="#0000ff"/>
<rect x="466" y="445" width="1" height="35" fill="#0000ff"/>
<rect x="471" y="475" width="1" height="5" fill="#0000ff"/>
<rect x="476" y="440" width="1" height="40" fill="#0000ff"/>
<rect x="480" y="454" width="1" height="26" fill="#0000ff"/>
<rect x="485" y="421" width="1" height="59" fill="#0000ff"/>
<rect x="490" y="460" width="1" height="20" fill="#0000ff"/>
<rect x="494" y="471" width="1" height="9" fill="#0000ff"/>
<rect x="499" y="459" width="1" height="21" fill="#0000ff"/>
<rect x="504" y="472" width="1" height="8" fill="#0000ff"/>
<rect x="508" y="449" width="1" height="31" fill="#0000ff"/>
<rect x="513" y="473" width="1" height="7" fill="#0000ff"/>
<rect x="518" y="449" width="1" height="31" fill="#0000ff"/>
<rect x="522" y="461" width="1" height="19" fill="#0000ff"/>
<rect x="527" y="467" width="1" height="13" fill="#0000ff"/>
<rect x="532" y="475" width="1" height="5" fill="#0000ff"/>
<rect x="536" y="473" width="1" height="7" fill="#0000ff"/>
<rect x="541" y="474" width="1" height="6" fill="#0000ff"/>
<rect x="546" y="470" width="1" height="10" fill="#0000ff"/>
<rect x="550" y="462" width="1" height="18" fill="#0000ff"/>
<rect x="555" y="472" width="1" height="8" fill="#0000ff"/>
<rect x="560" y="380" width="1" height="100" fill="#0000ff"/>
<rect x="564" y="442" width="1" height="38" fill="#0000ff"/>
<rect x="569" y="449" width="1" height="31" fill="#0000ff"/>
<rect x="574" y="433" width="1" height="47" fill="#0000ff"/>
<rect x="578" y="456" width="1" height="24" fill="#0000ff"/>
<rect x="583" y="439" width="1" height="41" fill="#0000ff"/>
<rect x="588" y="440" width="1" height="40" fill="#0000ff"/>
<rect x="592" y="448" width="1" height="32" fill="#0000ff"/>
<rect x="597" y="470" width="1" height="10" fill="#0000ff"/>
<rect x="602" y="442" width="1" height="38" fill="#0000ff"/>
<rect x="606" y="461" width="1" height="19" fill="#0000ff"/>
<rect x="611" y="472" width="1" height="8" fill="#0000ff"/>
<rect x="616" y="476" width="1" height="4" fill="#0000ff"/>
<rect x="620" y="468" width="1" height="12" fill="#0000ff"/>
<rect x="625" y="473" width="1" height="7" fill="#0000ff"/>
<rect x="630" y="467" width="1" height="13" fill="#0000ff"/>
<rect x="634" y="449" width="1" height="31" fill="#0000ff"/>
<rect x="639" y="469" width="1" height="11" fill="#0000ff"/>
<rect x="644" y="455" width="1" height="25" fill="#0000ff"/>
<rect x="648" y="469" width="1" height="11" fill="#0000ff"/>
<rect x="653" y="454" width="1" height="26" fill="#0000ff"/>
<rect x="658" y="472" width="1" height="8" fill="#0000ff"/>
<rect x="662" y="463" width="1" height="17" fill="#0000ff"/>
<rect x="667" y="466" width="1" height="14" fill="#0000ff"/>
<rect x="672" y="456" width="1" height="24" fill="#0000ff"/>
<rect x="676" y="435" width="1" height="45" fill="#0000ff"/>
<rect x="681" y="473" width="1" height="7" fill="#0000ff"/>
<rect x="686" y="444" width="1" height="36" fill="#0000ff"/>
<rect x="690" y="463" width="1" height="17" fill="#0000ff"/>
<rect x="695" y="460" width="1" height="20" fill="#0000ff"/>
<rect x="700" y="471" width="1" height="9" fill="#0000ff"/>
<rect x="704" y="471" width="1" height="9" fill="#0000ff"/>
<rect x="709" y="464" width="1" height="16" fill="#0000ff"/>
<rect x="714" y="458" width="1" height="22" fill="#0000ff"/>
<rect x="718" y="458" width="1" height="22" fill="#0000ff"/>
<path d="M61 428h1v1h-1zM62 427h1v1h-1zM63 427h1v1h-1zM64 426h1v1h-1zM65 426h1v1h-1zM66 425h1v1h-1zM67 424h1v1h-1zM68 424h1v1h-1zM69 423h1v1h-1zM70 423h1v1h-1zM71 423h1v1h-1zM72 423h1v1h-1zM73 423h1v1h-1zM74 423h1v1h-1zM75 423h1v1h-1zM76 424h1v2h-1zM77 426h1v2h-1zM78 428h1v2h-1zM79 430h1v1h-1zM80 430h1v1h-1zM81 431h1v1h-1zM82 431h1v1h-1zM83 432h1v1h-1zM84 432h1v3h-1zM85 435h1v4h-1zM86 439h1v4h-1zM87 443h1v5h-1zM88 448h1v4h-1zM89 452h1v3h-1zM90 452h1v2h-1zM91 450h1v2h-1zM92 448h1v2h-1zM93 446h1v2h-1zM94 445h1v1h-1zM95 444h1v1h-1zM96 443h1v1h-1zM97 442h1v1h-1zM98 441h1v1h-1zM99 439h1v2h-1zM100 437h1v2h-1zM101 435h1v2h-1zM102 433h1v2h-1zM103 430h1v3h-1zM104 428h1v2h-1zM105 425h1v3h-1zM106 423h1v2h-1zM107 421h1v2h-1zM108 422h1v1h-1zM109 423h1v1h-1zM110 424h1v2h-1zM111 426h1v1h-1zM112 427h1v1h-1zM113 428h1v1h-1zM114 429h1v1h-1zM115 430h1v2h-1zM116 432h1v1h-1zM117 433h1v1h-1zM118 434h1v2h-1zM119 436h1v2h-1zM120 438h1v2h-1zM121 440h1v3h-1zM122 443h1v2h-1zM123 445h1v2h-1zM124 447h1v2h-1zM125 449h1v2h-1zM126 451h1v4h-1zM127 455h1v4h-1zM128 459h1v4h-1zM129 463h1v4h-1zM130 467h1v4h-1zM131 471h1v3h-1zM132 473h1v1h-1zM133 472h1v1h-1zM134 472h1v1h-1zM135 471h1v2h-1zM136 468h1v3h-1zM137 465h1v3h-1zM138 461h1v4h-1zM139 458h1v3h-1zM140 456h1v2h-1zM141 455h1v1h-1zM142 455h1v1h-1zM143 454h1v1h-1zM144 454h1v1h-1zM145 453h1v1h-1zM146 451h1v2h-1zM147 449h1v2h-1zM148 447h1v2h-1zM149 446h1v1h-1zM150 445h1v1h-1zM151 445h1v1h-1zM152 444h1v1h-1zM153 444h1v1h-1zM154 443h1v1h-1zM155 443h1v1h-1zM156 442h1v1h-1zM157 442h1v1h-1zM158 441h1v1h-1zM159 440h1v2h-1zM160 437h1v3h-1zM161 435h1v2h-1zM162 432h1v3h-1zM163 430h1v2h-1zM164 429h1v1h-1zM165 428h1v1h-1zM166 426h1v2h-1zM167 425h1v1h-1zM168 424h1v2h-1zM169 426h1v4h-1zM170 430h1v3h-1zM171 433h1v3h-1zM172 436h1v4h-1zM173 440h1v2h-1zM174 440h1v1h-1zM175 438h1v2h-1zM176 437h1v1h-1zM177 436h1v1h-1zM178 435h1v1h-1zM179 434h1v1h-1zM180 432h1v2h-1zM181 431h1v1h-1zM182 430h1v1h-1zM183 428h1v2h-1zM184 427h1v1h-1zM185 426h1v1h-1zM186 424h1v2h-1zM187 423h1v1h-1zM188 422h1v1h-1zM189 420h1v2h-1zM190 419h1v1h-1zM191 418h1v1h-1zM192 418h1v1h-1zM193 418h1v1h-1zM194 418h1v1h-1zM195 418h1v1h-1zM196 418h1v1h-1zM197 417h1v1h-1zM198 417h1v1h-1zM199 416h1v1h-1zM200 416h1v1h-1zM201 415h1v1h-1zM202 413h1v2h-1zM203 411h1v2h-1zM204 409h1v2h-1zM205 407h1v2h-1zM206 406h1v1h-1zM207 405h1v1h-1zM208 403h1v2h-1zM209 402h1v1h-1zM210 401h1v1h-1zM211 402h1v1h-1zM212 403h1v1h-1zM213 404h1v1h-1zM214 405h1v1h-1zM215 406h1v1h-1zM216 407h1v1h-1zM217 408h1v1h-1zM218 409h1v1h-1zM219 410h1v1h-1zM220 408h1v2h-1zM221 406h1v2h-1zM222 404h1v2h-1zM223 402h1v2h-1zM224 401h1v1h-1zM225 402h1v2h-1zM226 404h1v2h-1zM227 406h1v2h-1zM228 408h1v2h-1zM229 410h1v2h-1zM230 412h1v1h-1zM231 413h1v1h-1zM232 414h1v1h-1zM233 415h1v1h-1zM234 415h1v1h-1zM235 415h1v1h-1zM236 414h1v1h-1zM237 414h1v1h-1zM238 414h1v1h-1zM239 414h1v1h-1zM240 414h1v1h-1zM241 413h1v1h-1zM242 413h1v1h-1zM243 413h1v1h-1zM244 411h1v2h-1zM245 409h1v2h-1zM246 407h1v2h-1zM247 406h1v1h-1zM248 407h1v1h-1zM249 408h1v1h-1zM250 409h1v1h-1zM251 410h1v1h-1zM252 411h1v1h-1zM253 412h1v2h-1zM254 414h1v1h-1zM255 415h1v2h-1zM256 417h1v2h-1zM257 419h1v1h-1zM258 419h1v1h-1zM259 419h1v1h-1zM260 419h1v1h-1zM261 418h1v2h-1zM262 416h1v2h-1zM263 413h1v3h-1zM264 410h1v3h-1zM265 408h1v2h-1zM266 405h1v3h-1zM267 403h1v2h-1zM268 400h1v3h-1zM269 397h1v3h-1zM270 395h1v2h-1zM271 393h1v2h-1zM272 393h1v1h-1zM273 393h1v1h-1zM274 393h1v1h-1zM275 393h1v1h-1zM276 393h1v1h-1zM277 392h1v1h-1zM278 392h1v1h-1zM279 391h1v1h-1zM280 391h1v1h-1zM281 391h1v1h-1zM282 390h1v1h-1zM283 390h1v1h-1zM284 389h1v1h-1zM285 389h1v1h-1zM286 388h1v1h-1zM287 387h1v1h-1zM288 386h1v1h-1zM289 385h1v1h-1zM290 384h1v1h-1zM291 383h1v1h-1zM292 382h1v1h-1zM293 381h1v1h-1zM294 380h1v1h-1zM295 381h1v2h-1zM296 383h1v2h-1zM297 385h1v2h-1zM298 387h1v2h-1zM299 389h1v2h-1zM300 391h1v3h-1zM301 394h1v4h-1zM302 398h1v3h-1zM303 401h1v2h-1zM304 403h1v2h-1zM305 405h1v1h-1zM306 406h1v2h-1zM307 408h1v2h-1zM308 410h1v1h-1zM309 410h1v1h-1zM310 411h1v1h-1zM311 411h1v1h-1zM312 412h1v1h-1zM313 412h1v1h-1zM314 412h1v1h-1zM315 412h1v1h-1zM316 412h1v1h-1zM317 412h1v1h-1zM318 412h1v1h-1zM319 411h1v1h-1zM320 411h1v1h-1zM321 410h1v1h-1zM322 410h1v1h-1zM323 410h1v1h-1zM324 410h1v1h-1zM325 409h1v1h-1zM326 409h1v1h-1zM327 409h1v1h-1zM328 408h1v1h-1zM329 406h1v2h-1zM330 405h1v1h-1zM331 404h1v1h-1zM332 405h1v1h-1zM333 405h1v1h-1zM334 406h1v1h-1zM335 406h1v1h-1zM336 407h1v3h-1zM337 410h1v6h-1zM338 416h1v5h-1zM339 421h1v6h-1zM340 427h1v6h-1zM341 433h1v3h-1zM342 435h1v1h-1zM343 434h1v1h-1zM344 434h1v1h-1zM345 434h1v1h-1zM346 435h1v1h-1zM347 436h1v1h-1zM348 437h1v2h-1zM349 439h1v1h-1zM350 440h1v1h-1zM351 441h1v2h-1zM352 443h1v1h-1zM353 444h1v2h-1zM354 446h1v2h-1zM355 448h1v1h-1zM356 448h1v1h-1zM357 448h1v1h-1zM358 448h1v1h-1zM359 448h1v1h-1zM360 449h1v1h-1zM361 449h1v1h-1zM362 450h1v1h-1zM363 450h1v1h-1zM364 451h1v1h-1zM365 452h1v1h-1zM366 452h1v1h-1zM367 453h1v1h-1zM368 453h1v1h-1zM369 454h1v1h-1zM370 455h1v1h-1zM371 455h1v1h-1zM372 456h1v1h-1zM373 456h1v1h-1zM374 456h1v1h-1zM375 456h1v1h-1zM376 456h1v1h-1zM377 456h1v1h-1zM378 456h1v2h-1zM379 458h1v4h-1zM380 462h1v4h-1zM381 466h1v4h-1zM382 470h1v4h-1zM383 474h1v3h-1zM384 475h1v1h-1zM385 475h1v1h-1zM386 474h1v1h-1zM387 474h1v1h-1zM388 474h1v1h-1zM389 473h1v1h-1zM390 473h1v1h-1zM391 472h1v1h-1zM392 472h1v1h-1zM393 471h1v1h-1zM394 470h1v1h-1zM395 470h1v1h-1zM396 469h1v1h-1zM397 468h1v1h-1zM398 467h1v1h-1zM399 465h1v2h-1zM400 464h1v1h-1zM401 463h1v1h-1zM402 462h1v1h-1zM403 462h1v1h-1zM404 461h1v1h-1zM405 461h1v1h-1zM406 460h1v1h-1zM407 458h1v2h-1zM408 456h1v2h-1zM409 454h1v2h-1zM410 452h1v2h-1zM411 451h1v1h-1zM412 449h1v2h-1zM413 447h1v2h-1zM414 445h1v2h-1zM415 443h1v2h-1zM416 442h1v1h-1zM417 441h1v1h-1zM418 441h1v1h-1zM419 440h1v1h-1zM420 439h1v1h-1zM421 437h1v2h-1zM422 436h1v1h-1zM423 435h1v1h-1zM424 433h1v2h-1zM425 432h1v1h-1zM426 433h1v1h-1zM427 434h1v1h-1zM428 435h1v1h-1zM429 436h1v1h-1zM430 435h1v1h-1zM431 434h1v1h-1zM432 434h1v1h-1zM433 433h1v1h-1zM434 432h1v1h-1zM435 431h1v1h-1zM436 429h1v2h-1zM437 428h1v1h-1zM438 427h1v2h-1zM439 429h1v3h-1zM440 432h1v3h-1zM441 435h1v3h-1zM442 438h1v3h-1zM443 441h1v2h-1zM444 443h1v2h-1zM445 445h1v2h-1zM446 447h1v2h-1zM447 449h1v2h-1zM448 451h1v2h-1zM449 453h1v1h-1zM450 454h1v1h-1zM451 454h1v1h-1zM452 455h1v1h-1zM453 456h1v1h-1zM454 456h1v1h-1zM455 457h1v1h-1zM456 457h1v1h-1zM457 458h1v1h-1zM458 458h1v1h-1zM459 458h1v1h-1zM460 457h1v1h-1zM461 457h1v1h-1zM462 457h1v3h-1zM463 460h1v6h-1zM464 466h1v6h-1zM465 472h1v6h-1zM466 478h1v3h-1zM467 479h1v1h-1zM468 479h1v1h-1zM469 478h1v1h-1zM470 478h1v1h-1zM471 477h1v1h-1zM472 476h1v1h-1zM473 475h1v1h-1zM474 474h1v1h-1zM475 473h1v1h-1zM476 472h1v1h-1zM477 472h1v1h-1zM478 473h1v1h-1zM479 473h1v1h-1zM480 472h1v2h-1zM481 470h1v2h-1zM482 468h1v2h-1zM483 465h1v3h-1zM484 463h1v2h-1zM485 461h1v2h-1zM486 462h1v2h-1zM487 464h1v1h-1zM488 465h1v2h-1zM489 467h1v2h-1zM490 469h1v1h-1zM491 469h1v1h-1zM492 469h1v1h-1zM493 469h1v1h-1zM494 469h1v1h-1zM495 468h1v1h-1zM496 467h1v1h-1zM497 467h1v1h-1zM498 466h1v1h-1zM499 465h1v1h-1zM500 465h1v1h-1zM501 465h1v1h-1zM502 466h1v1h-1zM503 466h1v1h-1zM504 466h1v1h-1zM505 464h1v2h-1zM506 463h1v1h-1zM507 461h1v2h-1zM508 460h1v2h-1zM509 462h1v2h-1zM510 464h1v2h-1zM511 466h1v2h-1zM512 468h1v2h-1zM513 470h1v2h-1zM514 466h1v4h-1zM515 463h1v3h-1zM516 460h1v3h-1zM517 456h1v4h-1zM518 454h1v2h-1zM519 454h1v1h-1zM520 453h1v1h-1zM521 453h1v1h-1zM522 453h1v1h-1zM523 453h1v1h-1zM524 453h1v1h-1zM525 452h1v1h-1zM526 452h1v1h-1zM527 452h1v1h-1zM528 452h1v1h-1zM529 452h1v1h-1zM530 451h1v1h-1zM531 451h1v1h-1zM532 451h1v1h-1zM533 451h1v1h-1zM534 450h1v1h-1zM535 450h1v1h-1zM536 450h1v1h-1zM537 450h1v1h-1zM538 450h1v1h-1zM539 450h1v1h-1zM540 450h1v1h-1zM541 450h1v1h-1zM542 450h1v1h-1zM543 450h1v1h-1zM544 449h1v1h-1zM545 449h1v1h-1zM546 449h1v1h-1zM547 450h1v1h-1zM548 450h1v1h-1zM549 451h1v1h-1zM550 451h1v1h-1zM551 450h1v1h-1zM552 450h1v1h-1zM553 449h1v1h-1zM554 449h1v1h-1zM555 448h1v1h-1zM556 449h1v1h-1zM557 450h1v1h-1zM558 450h1v1h-1zM559 451h1v1h-1zM560 452h1v1h-1zM561 453h1v2h-1zM562 455h1v2h-1zM563 457h1v2h-1zM564 459h1v1h-1zM565 458h1v1h-1zM566 458h1v1h-1zM567 457h1v1h-1zM568 457h1v1h-1zM569 456h1v1h-1zM570 454h1v2h-1zM571 453h1v1h-1zM572 452h1v1h-1zM573 450h1v2h-1zM574 449h1v1h-1zM575 449h1v1h-1zM576 448h1v1h-1zM577 448h1v1h-1zM578 448h1v1h-1zM579 447h1v1h-1zM580 446h1v1h-1zM581 445h1v1h-1zM582 444h1v1h-1zM583 443h1v1h-1zM584 444h1v1h-1zM585 445h1v1h-1zM586 446h1v1h-1zM587 447h1v1h-1zM588 448h1v2h-1zM589 450h1v2h-1zM590 452h1v3h-1zM591 455h1v2h-1zM592 457h1v2h-1zM593 457h1v1h-1zM594 456h1v1h-1zM595 454h1v2h-1zM596 453h1v1h-1zM597 451h1v2h-1zM598 448h1v3h-1zM599 445h1v3h-1zM600 441h1v4h-1zM601 438h1v3h-1zM602 436h1v2h-1zM603 435h1v1h-1zM604 433h1v2h-1zM605 432h1v1h-1zM606 431h1v1h-1zM607 430h1v1h-1zM608 430h1v1h-1zM609 429h1v1h-1zM610 429h1v1h-1zM611 428h1v1h-1zM612 428h1v1h-1zM613 428h1v1h-1zM614 429h1v1h-1zM615 429h1v1h-1zM616 429h1v1h-1zM617 430h1v2h-1zM618 432h1v2h-1zM619 434h1v2h-1zM620 436h1v2h-1zM621 437h1v1h-1zM622 438h1v1h-1zM623 438h1v1h-1zM624 439h1v1h-1zM625 439h1v1h-1zM626 439h1v1h-1zM627 438h1v1h-1zM628 438h1v1h-1zM629 437h1v1h-1zM630 437h1v4h-1zM631 441h1v7h-1zM632 448h1v6h-1zM633 454h1v7h-1zM634 461h1v4h-1zM635 465h1v1h-1zM636 466h1v1h-1zM637 466h1v1h-1zM638 467h1v1h-1zM639 467h1v2h-1zM640 465h1v2h-1zM641 462h1v3h-1zM642 459h1v3h-1zM643 457h1v2h-1zM644 455h1v2h-1zM645 455h1v1h-1zM646 454h1v1h-1zM647 454h1v1h-1zM648 454h1v1h-1zM649 454h1v1h-1zM650 455h1v1h-1zM651 455h1v1h-1zM652 456h1v1h-1zM653 456h1v1h-1zM654 455h1v1h-1zM655 454h1v1h-1zM656 452h1v2h-1zM657 451h1v1h-1zM658 450h1v1h-1zM659 451h1v1h-1zM660 451h1v1h-1zM661 452h1v1h-1zM662 452h1v1h-1zM663 453h1v1h-1zM664 453h1v1h-1zM665 454h1v1h-1zM666 454h1v1h-1zM667 455h1v1h-1zM668 456h1v1h-1zM669 456h1v1h-1zM670 457h1v1h-1zM671 457h1v1h-1zM672 458h1v2h-1zM673 460h1v3h-1zM674 463h1v2h-1zM675 465h1v3h-1zM676 468h1v2h-1zM677 469h1v1h-1zM678 469h1v1h-1zM679 468h1v1h-1zM680 468h1v1h-1zM681 467h1v2h-1zM682 464h1v3h-1zM683 461h1v3h-1zM684 458h1v3h-1zM685 455h1v3h-1zM686 453h1v2h-1zM687 454h1v1h-1zM688 454h1v1h-1zM689 455h1v1h-1zM690 455h1v1h-1zM691 455h1v1h-1zM692 455h1v1h-1zM693 454h1v1h-1zM694 454h1v1h-1zM695 454h1v1h-1zM696 453h1v1h-1zM697 453h1v1h-1zM698 452h1v1h-1zM699 452h1v1h-1zM700 451h1v1h-1zM701 450h1v1h-1zM702 449h1v1h-1zM703 449h1v1h-1zM704 448h1v1h-1zM705 449h1v1h-1zM706 449h1v1h-1zM707 450h1v1h-1zM708 450h1v1h-1zM709 451h1v1h-1zM710 450h1v1h-1zM711 449h1v1h-1zM712 447h1v2h-1zM713 446h1v1h-1zM714 445h1v1h-1zM715 446h1v2h-1zM716 448h1v2h-1zM717 450h1v2h-1zM718 452h1v1h-1z" fill="#ff00ff"/>
<rect x="47" y="4" width="693" height="1" fill="#000"/>
<rect x="47" y="344" width="693" height="1" fill="#000"/>
<rect x="47" y="4" width="1" height="341" fill="#000"/>
<rect x="739" y="4" width="1" height="341" fill="#000"/>
<rect x="47" y="364" width="693" height="1" fill="#000"/>
<rect x="47" y="482" width="693" height="1" fill="#000"/>
<rect x="47" y="364" width="1" height="119" fill="#000"/>
<rect x="739" y="364" width="1" height="119" fill="#000"/>
<rect x="476" y="17" width="267" height="3" fill="#ff0000"/>
<rect x="47" y="340" width="175" height="1" fill="#ff0000"/>
<rect x="221" y="339" width="374" height="1" fill="#ff0000"/>
<rect x="594" y="338" width="146" height="1" fill="#ff0000"/>
<rect x="740" y="53" width="3" height="1" fill="#000"/>
<rect x="740" y="101" width="3" height="1" fill="#000"/>
<rect x="740" y="148" width="3" height="1" fill="#000"/>
<rect x="740" y="197" width="3" height="1" fill="#000"/>
<rect x="740" y="245" width="3" height="1" fill="#000"/>
<rect x="740" y="294" width="3" height="1" fill="#000"/>
<rect x="740" y="381" width="3" height="1" fill="#000"/>
<rect x="740" y="406" width="3" height="1" fill="#000"/>
<rect x="740" y="430" width="3" height="1" fill="#000"/>
<rect x="740" y="455" width="3" height="1" fill="#000"/>
<rect x="93" y="345" width="1" height="3" fill="#000"/>
<rect x="177" y="345" width="1" height="3" fill="#000"/>
<rect x="261" y="345" width="1" height="3" fill="#000"/>
<rect x="345" y="345" width="1" height="3" fill="#000"/>
<rect x="429" y="345" width="1" height="3" fill="#000"/>
<rect x="513" y="345" width="1" height="3" fill="#000"/>
<rect x="597" y="345" width="1" height="3" fill="#000"/>
<rect x="681" y="345" width="1" height="3" fill="#000"/>
<rect x="45" y="386" width="2" height="1" fill="#000"/>
<rect x="45" y="405" width="2" height="1" fill="#000"/>
<rect x="45" y="424" width="2" height="1" fill="#000"/>
<rect x="45" y="443" width="2" height="1" fill="#000"/>
<rect x="45" y="463" width="2" height="1" fill="#000"/>
</g>
<g class="t" xml:space="preserve" style="will-change:transform">
<text x="51.0" y="17" letter-spacing="-0.417">FW20</text>
<text x="82.0" y="17" letter-spacing="-0.2">[Open:</text>
<text x="117.25" y="17" letter-spacing="-0.107">1 757,00</text>
<text x="164.75" y="17" letter-spacing="-0.438">High:</text>
<text x="192.0" y="17" letter-spacing="-0.107">1 760,00</text>
<text x="240.25" y="17" letter-spacing="0.75">Low:</text>
<text x="268.5" y="17" letter-spacing="-0.286">1 757,00</text>
<text x="316.0" y="17" letter-spacing="-0.45">Close:</text>
<text x="348.5" y="17" letter-spacing="0.031">1 760,00]</text>
<text x="396.5" y="17" letter-spacing="-0.333">(+0,2%)</text>
<text x="51.25" y="377" letter-spacing="0.208">Otwarte</text>
<text x="94.4" y="377" letter-spacing="0.086">Pozycje,</text>
<text x="139.75" y="377" letter-spacing="-0.5">VOL</text>
<text x="164.0" y="377" letter-spacing="0.0">-</text>
<text x="172.0" y="377" letter-spacing="-0.3">Volume</text>
<text x="209.7" y="377" letter-spacing="0.017">[1 764]</text>
<text x="746" y="58" text-anchor="start" fill="#000">1 770,0</text>
<text x="746" y="106" text-anchor="start" fill="#000">1 760,0</text>
<text x="746" y="153" text-anchor="start" fill="#000">1 750,0</text>
<text x="746" y="202" text-anchor="start" fill="#000">1 740,0</text>
<text x="746" y="250" text-anchor="start" fill="#000">1 730,0</text>
<text x="746" y="299" text-anchor="start" fill="#000">1 720,0</text>
<text x="747" y="386" text-anchor="start" fill="#000">8 000</text>
<text x="747" y="411" text-anchor="start" fill="#000">6 000</text>
<text x="747" y="435" text-anchor="start" fill="#000">4 000</text>
<text x="747" y="460" text-anchor="start" fill="#000">2 000</text>
<text x="42" y="391" text-anchor="end" fill="#000">51 000</text>
<text x="42" y="410" text-anchor="end" fill="#000">50 500</text>
<text x="42" y="429" text-anchor="end" fill="#000">50 000</text>
<text x="42" y="448" text-anchor="end" fill="#000">49 500</text>
<text x="42" y="468" text-anchor="end" fill="#000">49 000</text>
<text x="95" y="359" text-anchor="middle" fill="#000">2016-09-22</text>
<text x="179" y="359" text-anchor="middle" fill="#000">2016-09-26</text>
<text x="263" y="359" text-anchor="middle" fill="#000">2016-09-28</text>
<text x="347" y="359" text-anchor="middle" fill="#000">2016-09-30</text>
<text x="431" y="359" text-anchor="middle" fill="#000">2016-10-04</text>
<text x="515" y="359" text-anchor="middle" fill="#000">2016-10-06</text>
<text x="599" y="359" text-anchor="middle" fill="#000">2016-10-10</text>
<text x="683" y="359" text-anchor="middle" fill="#000">2016-10-12</text>
<text x="401.5" y="496" text-anchor="middle" fill="#000">(C)Stooq</text>
</g>
</svg>
</body></html>
